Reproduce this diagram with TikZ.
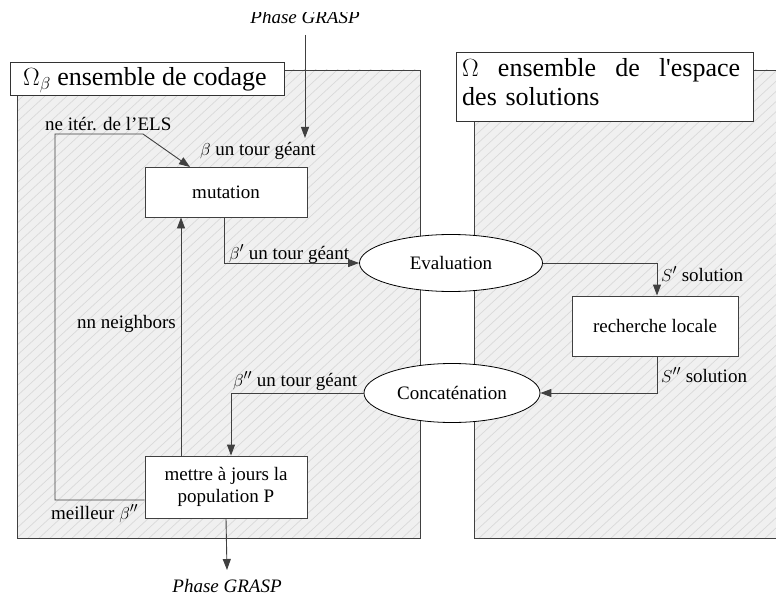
\documentclass[tikz,border=0pt]{standalone}
\usepackage{fontspec}
\setmainfont{Liberation Serif}
\newfontfamily\rawserif[Ligatures=TeXOff]{Liberation Serif}
\usetikzlibrary{arrows.meta,shapes.geometric,calc}
\definecolor{hatchbg}{HTML}{F0F0F0}
\definecolor{hatchln}{HTML}{D9D9D9}
\definecolor{lncol}{HTML}{404040}
\begin{document}
\begin{tikzpicture}[x=1pt,y=-1pt,
  conn/.style={draw=lncol,line width=0.9pt},
  arr/.style={conn,-{Triangle[length=11pt,width=8pt]}},
  boxnode/.style={draw=lncol,line width=0.9pt,fill=white,inner sep=0pt,font=\fontsize{19}{22}\selectfont,align=center},
  ellnode/.style={ellipse,draw=black,line width=0.8pt,fill=white,inner sep=0pt,font=\fontsize{19}{22}\selectfont},
  lbl/.style={anchor=base west,inner sep=0pt,font=\fontsize{19}{22}\selectfont},
  title/.style={draw=black!80,line width=0.8pt,fill=white,inner sep=0pt}]
\useasboundingbox (0,0) rectangle (776,596);
% panels
\foreach \xa/\xb in {17/420,474/780}{
  \begin{scope}
    \clip (\xa,70) rectangle (\xb,538);
    \fill[hatchbg] (\xa,70) rectangle (\xb,538);
    \foreach \i in {-700,-689,...,800}{
      \draw[hatchln,line width=0.7pt] (\i,540) -- ++(520,-480);
    }
  \end{scope}
  \draw[lncol,line width=0.9pt] (\xb,70) -- (\xa,70) -- (\xa,538) -- (\xb,538) -- (\xb,70);
}
% title boxes
\node[title,minimum width=274pt,minimum height=33pt,anchor=north west] (t1) at (10,62) {};
\node[anchor=base west,inner sep=0pt,font=\fontsize{26}{29}\selectfont] (t1txt) at (23,86) {$\Omega_\beta$ ensemble de codage};
\node[title,minimum width=297pt,minimum height=69pt,anchor=north west] (t2) at (456,52) {};
\node[anchor=north west,inner sep=0pt,font=\fontsize{26}{29}\selectfont,text width=278pt,align=left] (t2txt) at (462,58)
  {\makebox[278pt][l]{$\Omega$\hfill ensemble\hfill de\hfill {\rawserif l'espace}}\\des solutions};
% nodes
\node[boxnode,minimum width=162pt,minimum height=50pt] (mut) at (226,192) {mutation};
\node[boxnode,minimum width=162pt,minimum height=62pt] (maj) at (226,487) {mettre à jours la\\population P};
\node[boxnode,minimum width=166pt,minimum height=60pt] (rech) at (655,326) {recherche locale};
\node[ellnode,minimum width=183pt,minimum height=57pt] (eval) at (451,263) {Evaluation};
\node[ellnode,minimum width=176pt,minimum height=59pt] (conc) at (452,393) {Concaténation};
% free ends
\coordinate (gtop) at (305,35);
\coordinate (gtopend) at (305,138);
\coordinate (gbot) at (227,570);
\coordinate (l1) at (55,500);
\coordinate (l2) at (55,134);
\coordinate (l3) at (143,134);
\coordinate (l4) at (190,167);
\coordinate (c181) at (181,0);
\coordinate (c231) at (231,0);
% texts
\begin{scope}
  \clip (0,13) rectangle (776,40);
  \node[anchor=base,inner sep=0pt,font=\fontsize{19}{22}\selectfont\itshape] (gtxt) at (305,24) {Phase GRASP};
\end{scope}
\node[anchor=base,inner sep=0pt,font=\fontsize{19}{22}\selectfont\itshape] (gtxt2) at (227,592) {Phase GRASP};
\node[lbl] (lels) at (45,131) {ne itér. de l’ELS};
\node[lbl] (lb1) at (200,156) {$\beta$ un tour géant};
\node[lbl] (lb2) at (229,259) {$\beta'$ un tour géant};
\node[lbl] (lnn) at (77,328) {nn neighbors};
\node[lbl] (ls1) at (661,281) {$S'$ solution};
\node[lbl] (ls2) at (661,382) {$S''$ solution};
\node[lbl] (lb3) at (233,386) {$\beta''$ un tour géant};
\node[lbl] (lmb) at (51,519) {meilleur $\beta''$};
% connectors
\draw[arr] (gtop) -- (gtopend);
\draw[arr] (maj.west |- l1) -- (l1) -- (l2) -- (l3) -- (l4);
\draw[arr] (maj.north -| c181) -- (mut.south -| c181);
\draw[arr] ([xshift=-2pt]mut.south) |- (eval.west);
\draw[arr] (eval.east) -| ([xshift=2pt]rech.north);
\draw[arr] ([xshift=2pt]rech.south) |- (conc.east);
\draw[arr] (conc.west) -| (maj.north -| c231);
\draw[arr] (maj.south) -- (gbot);
\end{tikzpicture}
\end{document}
